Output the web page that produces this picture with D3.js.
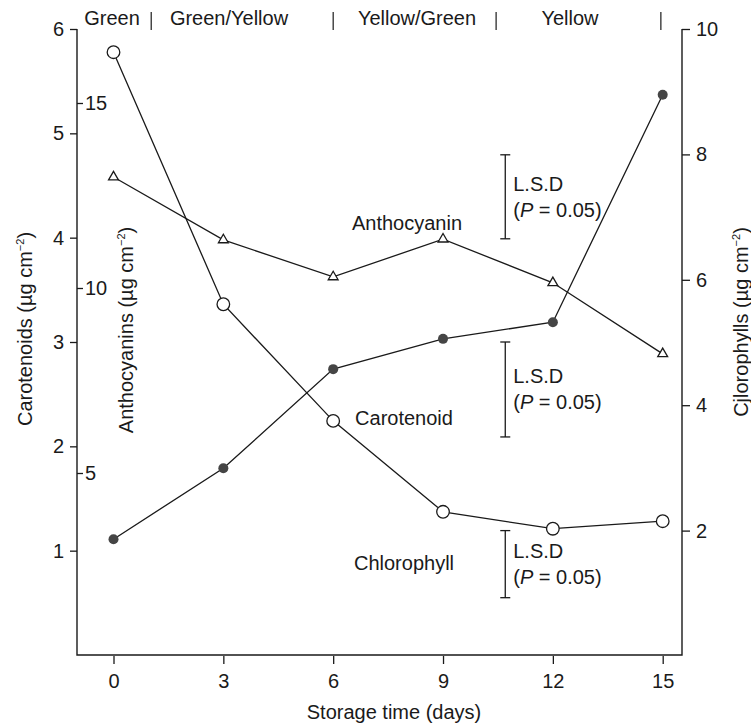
<!DOCTYPE html>
<html><head><meta charset="utf-8">
<script src="https://cdn.jsdelivr.net/npm/d3@7"></script>
<style>body{margin:0;background:#fff} svg{display:block;font-family:"Liberation Sans",Arial,Helvetica,sans-serif}</style>
</head><body><svg id="c" width="751" height="725"></svg>
<script>
// ---- data ----
const days = [0, 3, 6, 9, 12, 15];
const carotenoid = [1.11, 1.79, 2.74, 3.03, 3.19, 5.37];        // left axis (µg cm-2)
const anthocyanin = [13.0, 11.3, 10.3, 11.32, 10.14, 8.22];     // inner left axis (µg cm-2)
const chlorophyll = [9.63, 5.61, 3.75, 2.30, 2.03, 2.15];        // right axis (µg cm-2)
const xTicks = [0, 3, 6, 9, 12, 15];
const carotenoidTicks = [1, 2, 3, 4, 5, 6];
const anthocyaninTicks = [5, 10, 15];
const chlorophyllTicks = [2, 4, 6, 8, 10];
const stages = ["Green", "Green/Yellow", "Yellow/Green", "Yellow"];
const stageEnds = [1.03, 6, 10.45, 14.95];          // day at which each stage ends
const lsdNames = ["Anthocyanin", "Carotenoid", "Chlorophyll"];
const lsdValues = [2.27, 0.91, 1.07];              // LSD bar lengths in each series' units
const lsdTops = [13.6, 3.0, 2.0];                  // value at top of each LSD bar

// ---- layout ----
const L = 77, R = 682, B = 655, T = 29;
const stageLabelX = [112, 229, 417, 570];
const seriesLabelPos = {Anthocyanin: [407, 223], Carotenoid: [404, 418], Chlorophyll: [404, 563]};
const lsdDay = 10.7;

const svg = d3.select("#c");
const x = d3.scaleLinear().domain([0, 15]).range([113.5, 662.7]);
const yC = d3.scaleLinear().domain([0, 6]).range([B, T]);
const yA = d3.scaleLinear().domain([0, 17]).range([658, T]);
const yH = d3.scaleLinear().domain([0, 10]).range([656, T]);

const ink = "#1a1a1a";
const fs = 20;

function styleAxis(g) {
  g.attr("font-size", fs).attr("font-family", null);
  g.selectAll("line").attr("stroke", ink).attr("stroke-width", 1.3);
  g.selectAll("path").attr("stroke", ink).attr("stroke-width", 1.3);
  g.selectAll("text").attr("fill", ink);
}

// frame (left, bottom, right)
svg.append("path")
  .attr("d", `M${L},${T}V${B}H${R}V${T}`)
  .attr("fill", "none").attr("stroke", ink).attr("stroke-width", 1.4);

// carotenoid axis (outer ticks)
svg.append("g").attr("transform", `translate(${L},0)`)
  .call(d3.axisLeft(yC).tickValues(carotenoidTicks).tickSize(7).tickPadding(6).tickFormat(d3.format("d")))
  .call(g => g.select(".domain").remove()).call(styleAxis);

// anthocyanin axis (inner ticks)
svg.append("g").attr("transform", `translate(${L},0)`)
  .call(d3.axisRight(yA).tickValues(anthocyaninTicks).tickSize(6).tickPadding(2).tickFormat(d3.format("d")))
  .call(g => g.select(".domain").remove()).call(styleAxis);

// chlorophyll axis (right)
svg.append("g").attr("transform", `translate(${R},0)`)
  .call(d3.axisRight(yH).tickValues(chlorophyllTicks).tickSize(8).tickPadding(6).tickFormat(d3.format("d")))
  .call(g => g.select(".domain").remove()).call(styleAxis);

// x axis (ticks below frame)
svg.append("g").attr("transform", `translate(0,${B + 1})`)
  .call(d3.axisBottom(x).tickValues(xTicks).tickSize(8).tickPadding(10).tickFormat(d3.format("d")))
  .call(g => g.select(".domain").remove()).call(styleAxis);

// axis titles
svg.append("text").attr("x", 394).attr("y", 719).attr("text-anchor", "middle")
  .attr("font-size", fs).attr("fill", ink).text("Storage time (days)");

function rotTitle(cx, cy, main) {
  const t = svg.append("text").attr("transform", `translate(${cx},${cy}) rotate(-90)`)
    .attr("text-anchor", "middle").attr("dy", "0.35em").attr("font-size", fs).attr("fill", ink);
  t.append("tspan").text(main + " (µg cm");
  t.append("tspan").attr("font-size", 11).attr("dy", -8).text("−2");
  t.append("tspan").attr("dy", 8).text(")");
}
rotTitle(25, 329, "Carotenoids");
rotTitle(126, 330, "Anthocyanins");
rotTitle(741, 322, "Cjlorophylls");

// stage labels
svg.append("g").selectAll("text").data(stages).join("text")
  .attr("x", (d, i) => stageLabelX[i]).attr("y", 25).attr("text-anchor", "middle")
  .attr("font-size", fs).attr("fill", ink).text(d => d);
svg.append("g").selectAll("line").data(stageEnds).join("line")
  .attr("x1", d => x(d)).attr("x2", d => x(d)).attr("y1", 12).attr("y2", 30)
  .attr("stroke", ink).attr("stroke-width", 1.2);

// lines
const series = [
  {name: "Anthocyanin", vals: anthocyanin, y: yA, mark: "tri"},
  {name: "Carotenoid", vals: carotenoid, y: yC, mark: "fill"},
  {name: "Chlorophyll", vals: chlorophyll, y: yH, mark: "open"}
];
series.forEach(s => {
  const pts = days.map((d, i) => [x(d), s.y(s.vals[i])]);
  svg.append("path").attr("d", d3.line()(pts)).attr("fill", "none")
    .attr("stroke", ink).attr("stroke-width", 1.3);
});
series.forEach(s => {
  const g = svg.append("g");
  days.forEach((d, i) => {
    const cx = x(d), cy = s.y(s.vals[i]);
    if (s.mark === "fill") {
      g.append("circle").attr("cx", cx).attr("cy", cy).attr("r", 5).attr("fill", "#454545");
    } else if (s.mark === "open") {
      g.append("circle").attr("cx", cx).attr("cy", cy).attr("r", 6.3)
        .attr("fill", "#fff").attr("stroke", ink).attr("stroke-width", 1.3);
    } else {
      g.append("path").attr("transform", `translate(${cx},${cy})`)
        .attr("d", d3.symbol(d3.symbolTriangle, 42)())
        .attr("fill", "#fff").attr("stroke", ink).attr("stroke-width", 1.3);
    }
  });
  const p = seriesLabelPos[s.name];
  svg.append("text").attr("x", p[0]).attr("y", p[1]).attr("dy", "0.35em").attr("text-anchor", "middle")
    .attr("font-size", fs).attr("fill", ink).text(s.name);
});

// LSD bars
lsdNames.forEach((n, i) => {
  const s = series.find(q => q.name === n);
  const y1 = s.y(lsdTops[i]), y2 = s.y(lsdTops[i] - lsdValues[i]);
  const bx = x(lsdDay);
  const g = svg.append("g").attr("stroke", ink).attr("stroke-width", 1.3);
  g.append("line").attr("x1", bx).attr("x2", bx).attr("y1", y1).attr("y2", y2);
  g.append("line").attr("x1", bx - 5).attr("x2", bx + 5).attr("y1", y1).attr("y2", y1);
  g.append("line").attr("x1", bx - 5).attr("x2", bx + 5).attr("y1", y2).attr("y2", y2);
  const mid = (y1 + y2) / 2;
  svg.append("text").attr("x", bx + 8).attr("y", mid - 13).attr("dy", "0.35em")
    .attr("font-size", fs).attr("fill", ink).text("L.S.D");
  const t = svg.append("text").attr("x", bx + 8).attr("y", mid + 13).attr("dy", "0.35em")
    .attr("font-size", fs).attr("fill", ink);
  t.append("tspan").text("(");
  t.append("tspan").attr("font-style", "italic").text("P");
  t.append("tspan").text(" = 0.05)");
});
</script></body></html>
